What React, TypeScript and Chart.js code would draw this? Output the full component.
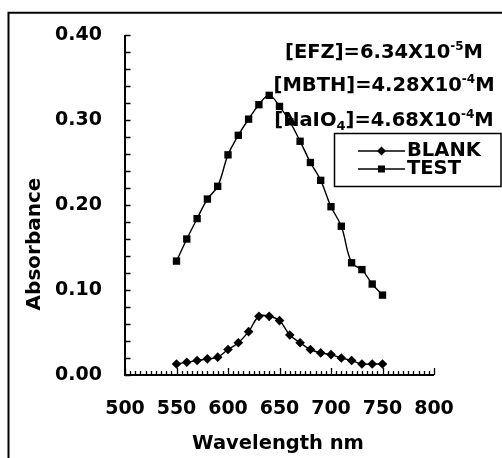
import React, { useEffect, useRef } from "react";
import { Chart, registerables } from "chart.js";

Chart.register(...registerables);

// ---- data ----
const wavelengths = [550, 560, 570, 580, 590, 600, 610, 620, 630, 640, 650, 660, 670, 680, 690, 700, 710, 720, 730, 740, 750];
const blankValues = [0.013, 0.015, 0.017, 0.019, 0.021, 0.030, 0.038, 0.051, 0.069, 0.069, 0.064, 0.047, 0.038, 0.030, 0.026, 0.024, 0.020, 0.017, 0.013, 0.013, 0.013];
const testValues = [0.134, 0.160, 0.184, 0.207, 0.222, 0.259, 0.282, 0.301, 0.318, 0.329, 0.316, 0.298, 0.275, 0.250, 0.229, 0.198, 0.175, 0.132, 0.124, 0.107, 0.094];
const seriesNames = ["BLANK", "TEST"];
const xTickValues = [500, 550, 600, 650, 700, 750, 800];
const yTickValues = [0, 0.1, 0.2, 0.3, 0.4];
const xTitle = "Wavelength nm";
const yTitle = "Absorbance";
// annotation lines: [text, kind] where kind n=normal, sup=superscript, sub=subscript
const annoEFZ: [string, string][] = [["[EFZ]=6.34X10", "n"], ["-5", "sup"], ["M", "n"]];
const annoMBTH: [string, string][] = [["[MBTH]=4.28X10", "n"], ["-4", "sup"], ["M", "n"]];
const annoNaIO4: [string, string][] = [["[NaIO", "n"], ["4", "sub"], ["]=4.68X10", "n"], ["-4", "sup"], ["M", "n"]];

const FAMILY = "'DejaVu Sans', sans-serif";

export default function App() {
  const ref = useRef<HTMLCanvasElement>(null);

  useEffect(() => {
    if (!ref.current) return;

    const drawRich = (ctx: CanvasRenderingContext2D, segs: [string, string][], cx: number, base: number) => {
      const fontFor = (k: string) =>
        k === "n" ? `bold 19.5px ${FAMILY}` : k === "sup" ? `bold 12px ${FAMILY}` : `bold 13px ${FAMILY}`;
      let total = 0;
      for (const [t, k] of segs) {
        ctx.font = fontFor(k);
        total += ctx.measureText(t).width;
      }
      let xx = cx - total / 2;
      ctx.textAlign = "left";
      ctx.textBaseline = "alphabetic";
      for (const [t, k] of segs) {
        ctx.font = fontFor(k);
        const dy = k === "sup" ? -8 : k === "sub" ? 4.5 : 0;
        ctx.fillText(t, xx, base + dy);
        xx += ctx.measureText(t).width;
      }
    };

    const custom = {
      id: "custom",
      afterDraw(chart: any) {
        const ctx: CanvasRenderingContext2D = chart.ctx;
        const xs = chart.scales.x;
        const ys = chart.scales.y;
        const x0 = xs.getPixelForValue(500);
        const x1 = xs.getPixelForValue(800);
        const y0 = ys.getPixelForValue(0);
        const y1 = ys.getPixelForValue(0.4);
        ctx.save();
        ctx.strokeStyle = "#000";
        ctx.fillStyle = "#000";

        // outer frame (partly cropped)
        ctx.lineWidth = 2;
        ctx.beginPath();
        ctx.moveTo(8.5, 700);
        ctx.lineTo(8.5, 12.7);
        ctx.lineTo(700, 12.7);
        ctx.stroke();

        // axes
        ctx.lineWidth = 2;
        ctx.beginPath();
        ctx.moveTo(x0, y1);
        ctx.lineTo(x0, y0);
        ctx.lineTo(x1, y0);
        ctx.stroke();

        // x ticks (minor every 5, major every 50), pointing up
        ctx.lineWidth = 1.3;
        ctx.beginPath();
        for (let v = 500; v <= 800; v += 5) {
          const px = Math.round(xs.getPixelForValue(v)) + 0.5;
          const len = v % 50 === 0 ? 7 : 4;
          ctx.moveTo(px, y0);
          ctx.lineTo(px, y0 - len);
        }
        ctx.stroke();

        // y ticks every 0.02, pointing right
        ctx.beginPath();
        for (let i = 0; i <= 20; i++) {
          const py = Math.round(ys.getPixelForValue(i * 0.02)) + 0.5;
          ctx.moveTo(x0, py);
          ctx.lineTo(x0 + 5.5, py);
        }
        ctx.stroke();

        // y title
        ctx.save();
        ctx.translate(40, 244);
        ctx.rotate(-Math.PI / 2);
        ctx.font = `bold 20px ${FAMILY}`;
        ctx.textAlign = "center";
        ctx.textBaseline = "alphabetic";
        ctx.fillText(yTitle, 0, 0);
        ctx.restore();

        // x title
        ctx.font = `bold 19.5px ${FAMILY}`;
        ctx.textAlign = "center";
        ctx.textBaseline = "alphabetic";
        ctx.fillText(xTitle, 278, 449);

        // annotations
        drawRich(ctx, annoEFZ, 384, 58);
        drawRich(ctx, annoMBTH, 384, 91);
        drawRich(ctx, annoNaIO4, 384, 125.5);

        // legend box
        ctx.lineWidth = 1.5;
        ctx.fillStyle = "#fff";
        ctx.fillRect(334.5, 133.5, 166.5, 53);
        ctx.strokeRect(334.5, 133.5, 166.5, 53);
        ctx.fillStyle = "#000";
        const rows = [151, 169];
        chart.data.datasets.forEach((ds: any, i: number) => {
          const yy = rows[i];
          ctx.lineWidth = 1.5;
          ctx.beginPath();
          ctx.moveTo(358, yy);
          ctx.lineTo(405, yy);
          ctx.stroke();
          ctx.beginPath();
          if (ds.pointStyle === "rectRot") {
            ctx.moveTo(381.5, yy - 4.5);
            ctx.lineTo(386, yy);
            ctx.lineTo(381.5, yy + 4.5);
            ctx.lineTo(377, yy);
            ctx.closePath();
          } else {
            ctx.rect(378, yy - 3.5, 7, 7);
          }
          ctx.fill();
          ctx.font = `bold 19.5px ${FAMILY}`;
          ctx.textAlign = "left";
          ctx.textBaseline = "middle";
          ctx.fillText(ds.label, 407, yy);
        });

        ctx.restore();
      },
    };

    const chart = new Chart(ref.current, {
      type: "line",
      data: {
        datasets: [
          {
            label: seriesNames[0],
            data: wavelengths.map((w, i) => ({ x: w, y: blankValues[i] })),
            borderColor: "#000",
            backgroundColor: "#000",
            borderWidth: 1.4,
            pointStyle: "rectRot",
            pointRadius: 4.8,
            pointBackgroundColor: "#000",
            pointBorderColor: "#000",
            pointBorderWidth: 0,
            tension: 0.4,
          },
          {
            label: seriesNames[1],
            data: wavelengths.map((w, i) => ({ x: w, y: testValues[i] })),
            borderColor: "#000",
            backgroundColor: "#000",
            borderWidth: 1.4,
            pointStyle: "rect",
            pointRadius: 5.2,
            pointBackgroundColor: "#000",
            pointBorderColor: "#000",
            pointBorderWidth: 0,
            tension: 0.4,
          },
        ],
      },
      options: {
        animation: false,
        responsive: false,
        maintainAspectRatio: false,
        layout: { padding: { left: 0, right: 68, top: 35, bottom: 0 } },
        plugins: { legend: { display: false }, tooltip: { enabled: false } },
        scales: {
          x: {
            type: "linear",
            min: 500,
            max: 800,
            grid: { display: false, drawTicks: false },
            border: { display: false },
            afterBuildTicks: (s: any) => {
              s.ticks = xTickValues.map((v) => ({ value: v }));
            },
            afterFit: (s: any) => {
              s.height = 83;
            },
            ticks: {
              color: "#000",
              padding: 23,
              maxRotation: 0,
              autoSkip: false,
              font: { family: FAMILY, size: 19, weight: "bold" },
              callback: (v: any) => String(v),
            },
          },
          y: {
            type: "linear",
            min: 0,
            max: 0.4,
            grid: { display: false, drawTicks: false },
            border: { display: false },
            afterBuildTicks: (s: any) => {
              s.ticks = yTickValues.map((v) => ({ value: v }));
            },
            afterFit: (s: any) => {
              s.width = 125;
            },
            ticks: {
              color: "#000",
              padding: 23,
              autoSkip: false,
              font: { family: FAMILY, size: 19, weight: "bold" },
              callback: (v: any) => Number(v).toFixed(2),
            },
          },
        },
      },
      plugins: [custom],
    } as any);

    return () => chart.destroy();
  }, []);

  return (
    <div style={{ position: "absolute", left: 0, top: 0, width: 502, height: 458, background: "#fff" }}>
      <canvas ref={ref} width={502} height={458} style={{ display: "block", width: 502, height: 458 }} />
    </div>
  );
}
